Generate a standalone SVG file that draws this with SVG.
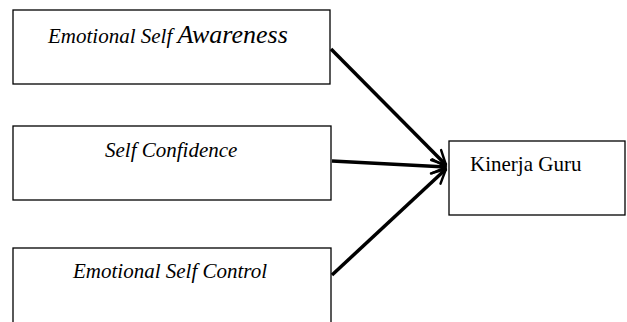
<svg xmlns="http://www.w3.org/2000/svg" width="627" height="322" viewBox="0 0 627 322">
<style>
.box{fill:#fff;stroke:#000;stroke-width:1.3}
.t{font-family:"Liberation Serif","Times New Roman",serif;font-size:21px;fill:#000}
.i{font-style:italic}
.c{stroke:#000;stroke-width:3.5;fill:none}
</style>
<defs>
<marker id="ah" viewBox="0 0 10 10" refX="9" refY="5" markerWidth="5" markerHeight="5" orient="auto" markerUnits="strokeWidth">
<path d="M1,1 L9,5 L1,9" fill="none" stroke="#000" stroke-width="1.4" stroke-linecap="round" stroke-linejoin="round"/>
</marker>
</defs>
<rect width="627" height="322" fill="#fff"/>
<g id="connectors">
<line class="c" x1="331" y1="49" x2="446" y2="165" marker-end="url(#ah)"/>
<line class="c" x1="332" y1="161" x2="446" y2="167" marker-end="url(#ah)"/>
<line class="c" x1="332" y1="275" x2="446" y2="169" marker-end="url(#ah)"/>
</g>
<g id="n1">
<rect class="box" x="13" y="10" width="317" height="74"/>
<text class="t i" x="48" y="43">Emotional Self <tspan font-size="26">Awareness</tspan></text>
</g>
<g id="n2">
<rect class="box" x="13" y="126" width="318" height="74"/>
<text class="t i" x="105" y="157">Self Confidence</text>
</g>
<g id="n3">
<rect class="box" x="13" y="248" width="318" height="80"/>
<text class="t i" x="73" y="278">Emotional Self Control</text>
</g>
<g id="n4">
<rect class="box" x="449" y="141" width="176" height="74"/>
<text class="t" x="470" y="171">Kinerja Guru</text>
</g>
</svg>
